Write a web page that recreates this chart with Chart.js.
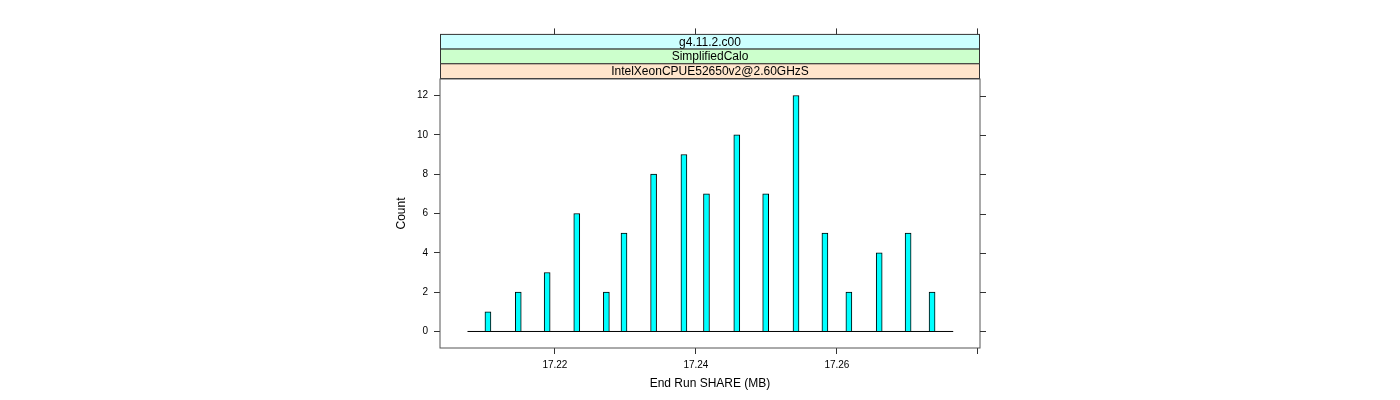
<!DOCTYPE html>
<html lang="en">
<head>
    <meta charset="UTF-8">
    <title>End Run SHARE (MB)</title>
    <style>
        body { margin: 0; background: #fff; }
        canvas { display: block; }
    </style>
</head>
<body>
<canvas id="shareChart" width="1400" height="400"></canvas>

<script src="https://cdn.jsdelivr.net/npm/chart.js"></script>
<script>
    // histogram bars (MB) and counts
    const shareValues = [17.2105, 17.2148, 17.2189, 17.2231, 17.2273, 17.2298, 17.2340, 17.2383, 17.2415,
                         17.2458, 17.2499, 17.2542, 17.2583, 17.2617, 17.2660, 17.2701, 17.2735];
    const counts = [1, 2, 3, 6, 2, 5, 8, 9, 7, 10, 7, 12, 5, 2, 4, 5, 2];

    // empty bins give the flat line at zero
    const baseRange = [17.2076, 17.2765];

    const xTicks = [17.22, 17.24, 17.26, 17.28];
    const xTickLabels = ['17.22', '17.24', '17.26', ''];
    const yTicks = [0, 2, 4, 6, 8, 10, 12];

    // strip labels, top to bottom
    const stripLabels = ['g4.11.2.c00', 'SimplifiedCalo', 'IntelXeonCPUE52650v2@2.60GHzS'];
    const stripColors = ['#ccffff', '#ccffcc', '#ffe5cc'];

    const FONT = '"Liberation Sans", Arial, sans-serif';

    // strips, panel box, top and right ticks (lattice style)
    const latticePlugin = {
        id: 'lattice',
        afterDraw(chart) {
            const c = chart.ctx;
            const a = chart.chartArea;
            const xs = chart.scales.x, ys = chart.scales.y;
            c.save();
            const stripH = 14.7;
            const stripBottom = a.top - 0.5;
            const stripTop = stripBottom - stripH * stripLabels.length;
            for (let i = 0; i < stripLabels.length; i++) {
                const y0 = stripTop + i * stripH;
                c.fillStyle = stripColors[i];
                c.fillRect(a.left, y0, a.right - a.left, stripH);
                c.strokeStyle = '#333';
                c.lineWidth = 1;
                c.strokeRect(a.left + 0.5, y0, a.right - a.left - 1, stripH);
                c.fillStyle = '#000';
                c.font = '12px ' + FONT;
                c.textAlign = 'center';
                c.textBaseline = 'middle';
                c.fillText(stripLabels[i], (a.left + a.right) / 2, y0 + stripH / 2 + 0.5);
            }
            // panel box
            c.strokeStyle = '#555';
            c.lineWidth = 1;
            c.strokeRect(a.left, a.top, a.right - a.left, a.bottom - a.top);
            // top ticks
            c.beginPath();
            xTicks.forEach(v => {
                const px = Math.round(xs.getPixelForValue(v)) - 0.5;
                c.moveTo(px, stripTop);
                c.lineTo(px, stripTop - 6);
            });
            // right ticks
            yTicks.forEach(v => {
                const py = Math.round(ys.getPixelForValue(v)) + 0.5;
                c.moveTo(a.right, py);
                c.lineTo(a.right + 6, py);
            });
            c.strokeStyle = '#333';
            c.stroke();
            c.restore();
        }
    };

    const ctx = document.getElementById('shareChart').getContext('2d');
    const chart = new Chart(ctx, {
        type: 'bar',
        data: {
            datasets: [{
                type: 'bar',
                data: shareValues.map((v, i) => ({ x: v, y: counts[i] })),
                backgroundColor: '#00ffff',
                borderColor: '#000',
                borderWidth: 1,
                barThickness: 6,
                order: 1
            }, {
                type: 'line',
                data: baseRange.map(v => ({ x: v, y: 0 })),
                borderColor: '#000',
                borderWidth: 1,
                pointRadius: 0,
                order: 2
            }]
        },
        options: {
            responsive: false,
            animation: false,
            layout: { padding: { top: 79, right: 420, bottom: 0, left: 394 } },
            plugins: {
                legend: { display: false },
                tooltip: { enabled: false }
            },
            scales: {
                x: {
                    type: 'linear',
                    min: 17.2037,
                    max: 17.2803,
                    offset: false,
                    grid: { offset: false, drawOnChartArea: false, drawTicks: true, tickLength: 6, color: '#333' },
                    border: { display: false },
                    afterBuildTicks: s => { s.ticks = xTicks.map(v => ({ value: v })); },
                    afterFit: s => { s.height = 52; },
                    ticks: {
                        autoSkip: false,
                        maxRotation: 0,
                        padding: 5,
                        color: '#000',
                        font: { family: FONT, size: 10 },
                        callback: (v) => xTickLabels[xTicks.indexOf(v)]
                    },
                    title: {
                        display: true,
                        text: 'End Run SHARE (MB)',
                        color: '#000',
                        font: { family: FONT, size: 12 },
                        padding: { top: 0, bottom: 9 }
                    }
                },
                y: {
                    min: -0.84,
                    max: 12.84,
                    grid: { drawOnChartArea: false, drawTicks: true, tickLength: 6, color: '#333' },
                    border: { display: false },
                    afterBuildTicks: s => { s.ticks = yTicks.map(v => ({ value: v })); },
                    afterFit: s => { s.width = 46; },
                    ticks: {
                        padding: 6,
                        color: '#000',
                        font: { family: FONT, size: 10 }
                    },
                    title: {
                        display: true,
                        text: 'Count',
                        color: '#000',
                        font: { family: FONT, size: 12 },
                        padding: 0
                    }
                }
            }
        },
        plugins: [latticePlugin]
    });
</script>
</body>
</html>
